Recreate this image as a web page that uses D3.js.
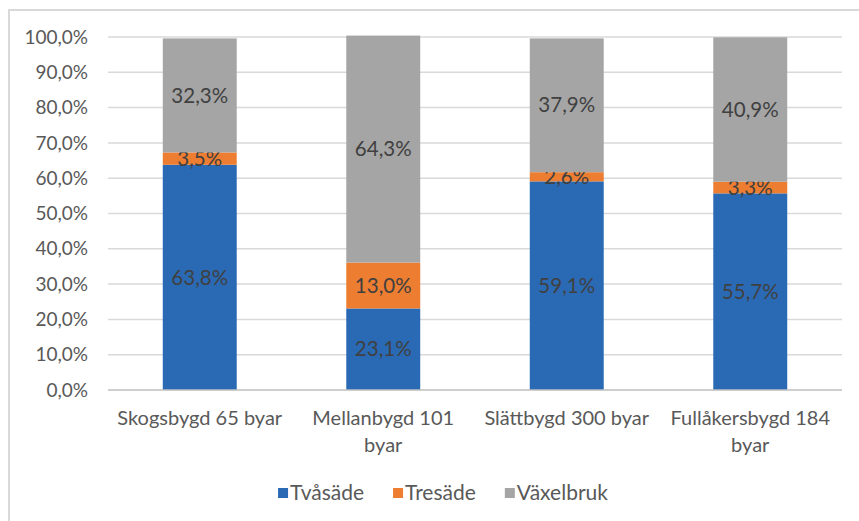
<!DOCTYPE html>
<html>
<head>
  <style>
    body{
      margin:0;
      background:#fff;
      font-family: Lato, sans-serif;
    }
    .tick-label{ fill:#595959; font-size:19px; }
    .cat-label{ fill:#595959; font-size:20px; }
    .value-label{ fill:#404040; font-size:20.5px; }
    .legend-label{ fill:#595959; font-size:21px; }
    .grid{ stroke:#d9d9d9; stroke-width:1.5; }
  </style>
  <script src="https://d3js.org/d3.v7.min.js"></script>
</head>
<body>
<div class="chart"></div>
<script>
const categories = ['Skogsbygd 65 byar', 'Mellanbygd 101 byar', 'Slättbygd 300 byar', 'Fullåkersbygd 184 byar'];
const seriesNames = ['Tvåsäde', 'Tresäde', 'Växelbruk'];
const tvasade = [63.8, 23.1, 59.1, 55.7];
const tresade = [3.5, 13.0, 2.6, 3.3];
const vaxelbruk = [32.3, 64.3, 37.9, 40.9];
const yTicks = [0, 10, 20, 30, 40, 50, 60, 70, 80, 90, 100];
const colours = ['#2a6ab5', '#ed7d31', '#a5a5a5'];

const width = 859;
const height = 521;
const fmt = v => v.toFixed(1).replace('.', ',') + '%';

const svg = d3.select('.chart')
  .append('svg')
  .attr('width', width)
  .attr('height', height);

// frame (top and left edges only are visible)
svg.append('line').attr('x1', 8).attr('x2', width).attr('y1', 10).attr('y2', 10)
  .attr('stroke', '#d9d9d9').attr('stroke-width', 2);
svg.append('line').attr('x1', 9).attr('x2', 9).attr('y1', 10).attr('y2', height)
  .attr('stroke', '#d9d9d9').attr('stroke-width', 2);

const x = d3.scaleBand()
  .domain(categories)
  .range([108, 842])
  .paddingInner(0.597)
  .paddingOuter(0.2985);

const y = d3.scaleLinear()
  .domain([0, 100])
  .range([390, 37]);

const colour = d3.scaleOrdinal().domain(seriesNames).range(colours);

// gridlines
svg.append('g')
  .selectAll('line')
  .data(yTicks.filter(t => t > 0))
  .enter()
  .append('line')
  .attr('class', 'grid')
  .attr('x1', 108).attr('x2', 842)
  .attr('y1', d => y(d)).attr('y2', d => y(d));

// y tick labels
svg.append('g')
  .selectAll('text')
  .data(yTicks)
  .enter()
  .append('text')
  .attr('class', 'tick-label')
  .attr('x', 88)
  .attr('y', d => y(d))
  .attr('dy', '0.35em')
  .attr('text-anchor', 'end')
  .text(d => fmt(d));

// stacked data
const rows = categories.map((c, i) => ({
  cat: c, 'Tvåsäde': tvasade[i], 'Tresäde': tresade[i], 'Växelbruk': vaxelbruk[i]
}));
const stacked = d3.stack().keys(seriesNames)(rows);

const layers = svg.append('g')
  .selectAll('g')
  .data(stacked)
  .enter()
  .append('g')
  .attr('fill', d => colour(d.key));

layers.selectAll('rect')
  .data(d => d)
  .enter()
  .append('rect')
  .attr('x', d => x(d.data.cat))
  .attr('width', x.bandwidth())
  .attr('y', d => y(d[1]))
  .attr('height', d => y(d[0]) - y(d[1]));

layers.selectAll('text')
  .data(d => d.map(p => ({p: p, key: d.key})))
  .enter()
  .append('text')
  .attr('class', 'value-label')
  .attr('x', d => x(d.p.data.cat) + x.bandwidth() / 2)
  .attr('y', d => (y(d.p[0]) + y(d.p[1])) / 2)
  .attr('dy', '0.35em')
  .attr('text-anchor', 'middle')
  .text(d => fmt(d.p.data[d.key]));

// baseline
svg.append('line')
  .attr('x1', 108).attr('x2', 842)
  .attr('y1', y(0)).attr('y2', y(0))
  .attr('stroke', '#bfbfbf').attr('stroke-width', 1.5);

// category labels, wrapped to the band
function wrap(text, maxWidth){
  text.each(function(){
    const t = d3.select(this);
    const words = t.text().split(' ');
    t.text(null);
    let line = [];
    let tspan = t.append('tspan').attr('x', t.attr('x')).attr('dy', 0);
    words.forEach(w => {
      line.push(w);
      tspan.text(line.join(' '));
      if (tspan.node().getComputedTextLength() > maxWidth && line.length > 1){
        line.pop();
        tspan.text(line.join(' '));
        line = [w];
        tspan = t.append('tspan').attr('x', t.attr('x')).attr('dy', 27).text(w);
      }
    });
  });
}

svg.append('g')
  .selectAll('text')
  .data(categories)
  .enter()
  .append('text')
  .attr('class', 'cat-label')
  .attr('x', d => x(d) + x.bandwidth() / 2)
  .attr('y', 425)
  .attr('text-anchor', 'middle')
  .text(d => d)
  .call(wrap, 172);

// legend
const legend = svg.append('g');
const items = legend.selectAll('g')
  .data(seriesNames)
  .enter()
  .append('g');
items.append('rect')
  .attr('width', 10).attr('height', 10)
  .attr('y', 488)
  .attr('fill', d => colour(d));
items.append('text')
  .attr('class', 'legend-label')
  .attr('x', 12)
  .attr('y', 493)
  .attr('dy', '0.35em')
  .text(d => d);

const widths = [];
items.each(function(){
  widths.push(d3.select(this).select('text').node().getComputedTextLength() + 12);
});
const gap = 29;
const total = d3.sum(widths) + gap * (widths.length - 1);
let start = 443 - total / 2;
items.attr('transform', (d, i) => {
  const tx = start;
  start += widths[i] + gap;
  return `translate(${tx},0)`;
});
</script>
</body>
</html>
